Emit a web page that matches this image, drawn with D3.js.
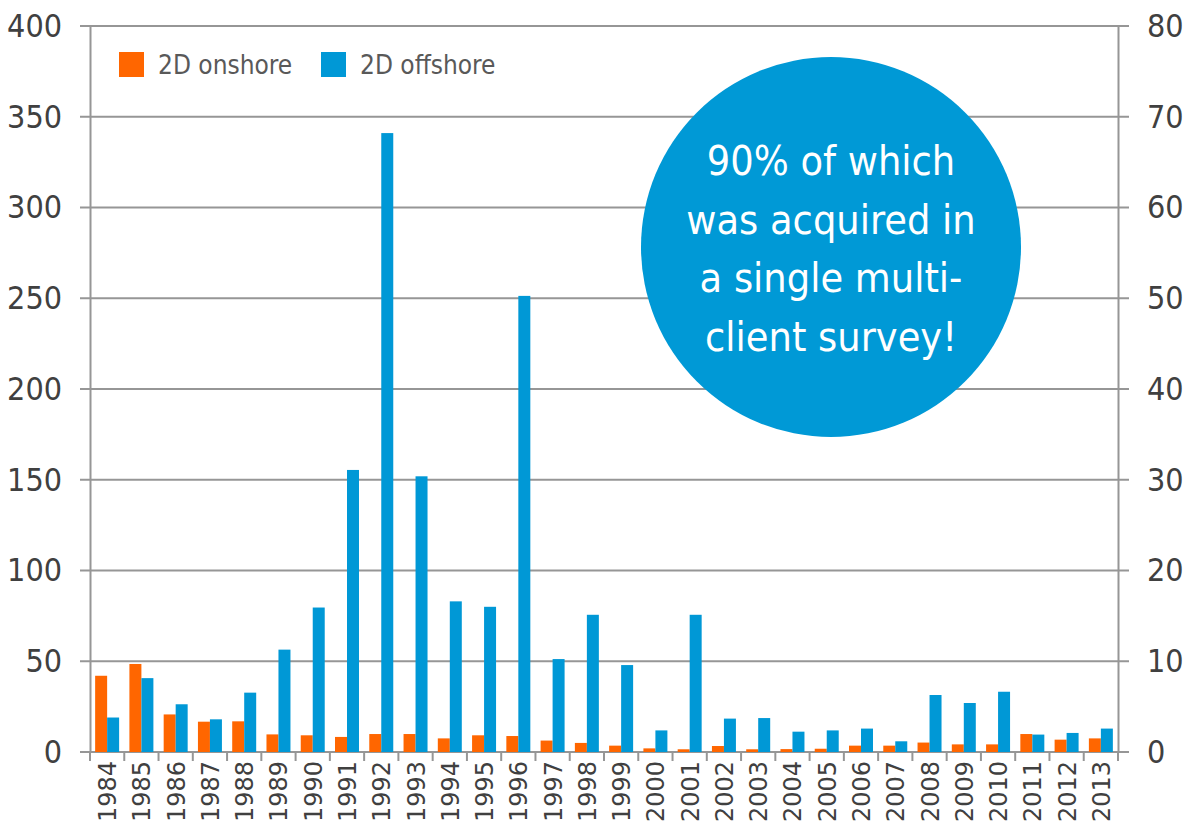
<!DOCTYPE html>
<html>
<head>
<meta charset="utf-8">
<script src="https://d3js.org/d3.v7.min.js"></script>
<style>
  body { margin: 0; background: #fff; }
  svg { display: block; }
</style>
</head>
<body>
<div id="chart"></div>
<script>
const years = ["1984","1985","1986","1987","1988","1989","1990","1991","1992","1993",
  "1994","1995","1996","1997","1998","1999","2000","2001","2002","2003",
  "2004","2005","2006","2007","2008","2009","2010","2011","2012","2013"];
const onshore = [42, 48.5, 20.7, 16.7, 16.9, 9.7, 9.2, 8.3, 9.9, 9.9,
  7.5, 9.2, 8.8, 6.3, 5, 3.5, 2, 1.5, 3.3, 1.5,
  1.6, 1.8, 3.5, 3.5, 5.2, 4.2, 4.2, 9.9, 6.8, 7.5];
const offshore = [19, 40.7, 26.3, 18, 32.7, 56.4, 79.6, 155.4, 341, 151.9,
  83, 80, 251.3, 51.2, 75.6, 47.9, 11.9, 75.6, 18.4, 18.7,
  11.2, 11.9, 12.9, 5.9, 31.4, 27, 33.2, 9.6, 10.5, 12.9];
const leftTicks = [0, 50, 100, 150, 200, 250, 300, 350, 400];
const rightTicks = [0, 10, 20, 30, 40, 50, 60, 70, 80];
const seriesNames = ["2D onshore", "2D offshore"];
const bubbleLines = ["90% of which", "was acquired in", "a single multi-", "client survey!"];

const W = 1187, H = 824;
const plotLeft = 90, plotRight = 1118, plotTop = 26, plotBottom = 752;
const orange = "#ff6600", blue = "#0098d6";
const gridCol = "#969696", textCol = "#404040";

const svg = d3.select("#chart").append("svg")
  .attr("width", W).attr("height", H);

const x = d3.scaleBand().domain(years).range([plotLeft, plotRight])
  .paddingInner(0.3).paddingOuter(0.15);
const xs = d3.scaleBand().domain([0, 1]).range([0, x.bandwidth()]);
const y = d3.scaleLinear().domain([0, 400]).range([plotBottom, plotTop]);
const y2 = d3.scaleLinear().domain([0, 80]).range([plotBottom, plotTop]);

// gridlines
svg.append("g").selectAll("line").data(leftTicks).join("line")
  .attr("x1", plotLeft - 10).attr("x2", plotRight + 11)
  .attr("y1", d => y(d)).attr("y2", d => y(d))
  .attr("stroke", gridCol).attr("stroke-width", 2);

// bars
const bars = svg.append("g");
years.forEach((yr, i) => {
  [onshore[i], offshore[i]].forEach((v, j) => {
    bars.append("rect")
      .attr("x", x(yr) + xs(j))
      .attr("y", y(v))
      .attr("width", xs.bandwidth())
      .attr("height", y(0) - y(v))
      .attr("fill", j === 0 ? orange : blue);
  });
});

// left axis
const leftAxis = svg.append("g")
  .attr("transform", `translate(${plotLeft},0)`)
  .call(d3.axisLeft(y).tickValues(leftTicks).tickSize(0).tickPadding(28));
leftAxis.select(".domain").attr("stroke", gridCol).attr("stroke-width", 2);
leftAxis.selectAll("text")
  .attr("fill", textCol)
  .style("font-family", "'DejaVu Sans Condensed', 'DejaVu Sans', sans-serif")
  .style("font-size", "32px");

// right axis
const rightAxis = svg.append("g")
  .attr("transform", `translate(${plotRight},0)`)
  .call(d3.axisRight(y2).tickValues(rightTicks).tickSize(0).tickPadding(29));
rightAxis.select(".domain").attr("stroke", gridCol).attr("stroke-width", 2);
rightAxis.selectAll("text")
  .attr("fill", textCol)
  .style("font-family", "'DejaVu Sans Condensed', 'DejaVu Sans', sans-serif")
  .style("font-size", "32px");

// bottom axis: category boundary ticks
const edges = years.map((d, i) => plotLeft + i * x.step()).concat([plotRight]);
svg.append("g").selectAll("line").data(edges).join("line")
  .attr("x1", d => d).attr("x2", d => d)
  .attr("y1", plotBottom).attr("y2", plotBottom + 9)
  .attr("stroke", gridCol).attr("stroke-width", 2);

svg.append("g").selectAll("text").data(years).join("text")
  .attr("transform", d => `translate(${x(d) + x.bandwidth() / 2 + 9},${plotBottom + 9}) rotate(-90)`)
  .attr("text-anchor", "end")
  .attr("fill", textCol)
  .style("font-family", "'DejaVu Sans', sans-serif")
  .style("font-size", "24px")
  .text(d => d);

// legend
const legend = svg.append("g");
const legendX = [119, 321];
seriesNames.forEach((name, i) => {
  legend.append("rect")
    .attr("x", legendX[i]).attr("y", 52)
    .attr("width", 25).attr("height", 25)
    .attr("fill", i === 0 ? orange : blue);
  legend.append("text")
    .attr("x", legendX[i] + 39).attr("y", 74)
    .attr("fill", "#595959")
    .style("font-family", "'DejaVu Sans Condensed', 'DejaVu Sans', sans-serif")
    .style("font-size", "26px")
    .text(name);
});

// callout bubble
const bubble = svg.append("g");
bubble.append("circle")
  .attr("cx", 831).attr("cy", 247).attr("r", 190)
  .attr("fill", "#0099d6");
bubble.selectAll("text").data(bubbleLines).join("text")
  .attr("x", 831)
  .attr("y", (d, i) => 175 + i * 58.5)
  .attr("text-anchor", "middle")
  .attr("fill", "#fff")
  .style("font-family", "'DejaVu Sans Condensed', 'DejaVu Sans', sans-serif")
  .style("font-size", "41px")
  .text(d => d);
</script>
</body>
</html>
